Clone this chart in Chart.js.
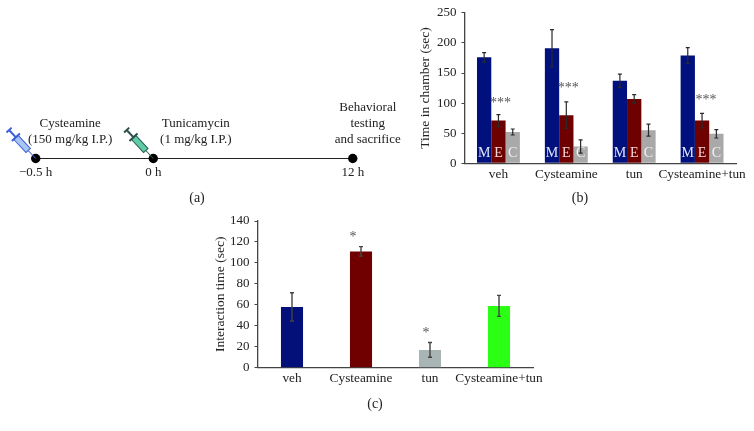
<!DOCTYPE html>
<html>
<head>
<meta charset="utf-8">
<title>Cysteamine behaviour chart</title>
<script src="https://cdn.jsdelivr.net/npm/chart.js@4"></script>
<style>
    html, body { margin: 0; padding: 0; background: #fff; }
    body { position: relative; width: 754px; height: 431px; overflow: hidden; }
    canvas { position: absolute; }
    .caption { position: absolute; width: 40px; text-align: center; font: 14px "Liberation Serif", serif; color: #222; line-height: 16px; }
</style>
</head>
<body>
<canvas id="timelineChart" width="410" height="161" style="left:0;top:78px"></canvas>
<canvas id="chamberChart" width="354" height="190" style="left:400px;top:0"></canvas>
<canvas id="interactionChart" width="350" height="190" style="left:200px;top:205px"></canvas>
<div class="caption" style="left:177px;top:190px">(a)</div>
<div class="caption" style="left:560px;top:190px">(b)</div>
<div class="caption" style="left:355px;top:396px">(c)</div>
<script>
// panel (a)
const timelineHours = [-0.5, 0, 12];
const timelineTicks = ['−0.5 h', '0 h', '12 h'];
const timelineNotes = [
    ['Cysteamine', '(150 mg/kg I.P.)'],
    ['Tunicamycin', '(1 mg/kg I.P.)'],
    ['Behavioral', 'testing', 'and sacrifice']
];

// panel (b)
const chamberGroups = ['veh', 'Cysteamine', 'tun', 'Cysteamine+tun'];
const chamberMale = [176, 191, 137, 179];
const chamberMaleErr = [8, 31, 11, 13];
const chamberEmpty = [71, 80, 107, 71];
const chamberEmptyErr = [10, 22, 7, 12];
const chamberCenter = [52, 28, 55, 49];
const chamberCenterErr = [5, 11, 10, 7];
const chamberStars = [104, 129, null, 110];

// panel (c)
const interactionGroups = ['veh', 'Cysteamine', 'tun', 'Cysteamine+tun'];
const interactionValues = [58, 111, 17, 59];
const interactionErr = [13.5, 4.5, 7, 10];
const interactionStars = [null, 127, 36, null];

const serif = '"Liberation Serif", serif';
const inkColor = '#222';
const axisColor = '#444';

// the 12 h stretch is drawn shorter than the half hour before it
function schematicHour(h) {
    return h <= 0 ? h : h * 0.848 / 12;
}

function drawSyringe(ctx, x, y, fill, line, dark) {
    ctx.save();
    ctx.translate(x, y);
    ctx.rotate(Math.atan2(-31, -29));
    ctx.strokeStyle = line;
    ctx.lineWidth = 1;
    ctx.beginPath();
    ctx.moveTo(0, 0);
    ctx.lineTo(11, 0);
    ctx.stroke();
    ctx.fillStyle = fill;
    ctx.fillRect(11, -3, 18, 6);
    ctx.strokeRect(11, -3, 18, 6);
    ctx.lineWidth = 2;
    ctx.strokeStyle = dark;
    ctx.beginPath();
    ctx.moveTo(29, -5.5);
    ctx.lineTo(29, 5.5);
    ctx.moveTo(29, 0);
    ctx.lineTo(39, 0);
    ctx.moveTo(39, -3.5);
    ctx.lineTo(39, 3.5);
    ctx.stroke();
    ctx.restore();
}

const timelineText = {
    id: 'timelineText',
    afterDatasetsDraw(chart) {
        const ctx = chart.ctx;
        const pts = chart.getDatasetMeta(0).data;
        const shiftX = [34.5, 42.5, 15];
        ctx.save();
        ctx.fillStyle = inkColor;
        ctx.textAlign = 'center';
        ctx.textBaseline = 'middle';
        ctx.font = '13px ' + serif;
        pts.forEach(function (p, i) {
            ctx.fillText(timelineTicks[i], p.x, p.y + 14);
            const lines = timelineNotes[i];
            lines.forEach(function (txt, j) {
                ctx.fillText(txt, p.x + shiftX[i], p.y - 19 - (lines.length - 1 - j) * 16.2);
            });
        });
        ctx.restore();
        drawSyringe(ctx, pts[0].x, pts[0].y, '#a9c6f2', '#3a5fd8', '#3a5fd8');
        drawSyringe(ctx, pts[1].x, pts[1].y, '#62cba3', '#1f5f55', '#2b4f4a');
    }
};

// error bars, stars and the letters inside the bars
const barExtras = {
    id: 'barExtras',
    afterDatasetsDraw(chart, args, opts) {
        const ctx = chart.ctx;
        const y = chart.scales.y;
        ctx.save();
        chart.data.datasets.forEach(function (ds, d) {
            const bars = chart.getDatasetMeta(d).data;
            bars.forEach(function (bar, i) {
                if (ds.letter) {
                    ctx.fillStyle = ds.letterColor;
                    ctx.font = '14px ' + serif;
                    ctx.textAlign = 'center';
                    ctx.textBaseline = 'middle';
                    ctx.fillText(ds.letter, bar.x, y.getPixelForValue(16));
                }
                const top = y.getPixelForValue(ds.data[i] + ds.err[i]);
                const low = y.getPixelForValue(ds.data[i] - ds.err[i]);
                ctx.strokeStyle = opts.errColor;
                ctx.lineWidth = opts.errWidth;
                ctx.beginPath();
                ctx.moveTo(bar.x, top);
                ctx.lineTo(bar.x, low);
                ctx.moveTo(bar.x - 2, top);
                ctx.lineTo(bar.x + 2, top);
                ctx.moveTo(bar.x - 2, low);
                ctx.lineTo(bar.x + 2, low);
                ctx.stroke();
                if (ds.stars && ds.stars[i] !== null) {
                    ctx.fillStyle = '#555';
                    ctx.font = '14px ' + serif;
                    ctx.textAlign = 'center';
                    ctx.textBaseline = 'middle';
                    ctx.fillText(ds.starText, bar.x + ds.starShift[i], y.getPixelForValue(ds.stars[i]) + 3);
                }
            });
        });
        ctx.restore();
    }
};

function barOptions(yMax, yStep, yTitle, yWidth, xHeight, padding, titleGap, errColor, errWidth) {
    return {
        responsive: false,
        animation: false,
        layout: { padding: padding },
        plugins: {
            legend: { display: false },
            tooltip: { enabled: false },
            barExtras: { errColor: errColor, errWidth: errWidth }
        },
        scales: {
            x: {
                grid: { display: false, drawTicks: false },
                border: { color: axisColor, width: 1.3 },
                ticks: { color: inkColor, font: { family: serif, size: 13.3 }, maxRotation: 0, autoSkip: false, padding: 3 },
                afterFit: function (s) { s.height = xHeight; }
            },
            y: {
                min: 0,
                max: yMax,
                grid: { display: true, drawOnChartArea: false, drawTicks: true, tickLength: 3, color: axisColor },
                border: { color: axisColor, width: 1.3 },
                ticks: { stepSize: yStep, color: inkColor, font: { family: serif, size: 13 }, padding: 5 },
                title: { display: true, text: yTitle, color: inkColor, font: { family: serif, size: 13.5 }, padding: { top: titleGap, bottom: 0 } },
                afterFit: function (s) { s.width = yWidth; }
            }
        }
    };
}

new Chart(document.getElementById('timelineChart').getContext('2d'), {
    type: 'scatter',
    data: {
        datasets: [{
            data: timelineHours.map(function (h) { return { x: schematicHour(h), y: 0 }; }),
            showLine: true,
            borderColor: '#222',
            borderWidth: 1.2,
            pointBackgroundColor: '#000',
            pointBorderWidth: 0,
            pointRadius: 4.7
        }]
    },
    options: {
        responsive: false,
        animation: false,
        layout: { autoPadding: false },
        plugins: { legend: { display: false }, tooltip: { enabled: false } },
        scales: {
            x: { display: false, min: -0.6518, max: 1.0914 },
            y: { display: false, min: -1, max: 1 }
        }
    },
    plugins: [timelineText]
});

new Chart(document.getElementById('chamberChart').getContext('2d'), {
    type: 'bar',
    data: {
        labels: chamberGroups,
        datasets: [
            { data: chamberMale, err: chamberMaleErr, backgroundColor: '#00107c', letter: 'M', letterColor: '#dfe6fb',
                categoryPercentage: 0.632, barPercentage: 1 },
            { data: chamberEmpty, err: chamberEmptyErr, backgroundColor: '#6f0000', letter: 'E', letterColor: '#f3d9d9',
                categoryPercentage: 0.632, barPercentage: 1,
                stars: chamberStars, starText: '***', starShift: [2, 2, 0, 4] },
            { data: chamberCenter, err: chamberCenterErr, backgroundColor: '#a9a9a9', letter: 'C', letterColor: '#f2f2f2',
                categoryPercentage: 0.632, barPercentage: 1 }
        ]
    },
    options: barOptions(250, 50, 'Time in chamber (sec)', 64.5, 26.7, { top: 12.3, right: 18, left: 0, bottom: 0 }, 17, '#2a2a2a', 1.2),
    plugins: [barExtras]
});

new Chart(document.getElementById('interactionChart').getContext('2d'), {
    type: 'bar',
    data: {
        labels: interactionGroups,
        datasets: [{
            data: interactionValues,
            err: interactionErr,
            backgroundColor: ['#03107a', '#700000', '#a9b5b5', '#2bff14'],
            categoryPercentage: 0.32,
            barPercentage: 1,
            stars: interactionStars,
            starText: '*',
            starShift: [0, -8, -4, 0]
        }]
    },
    options: barOptions(140, 20, 'Interaction time (sec)', 57.5, 27.3, { top: 16, right: 16.5, left: 0, bottom: 0 }, 12.5, '#444', 1.4),
    plugins: [barExtras]
});
</script>
</body>
</html>
